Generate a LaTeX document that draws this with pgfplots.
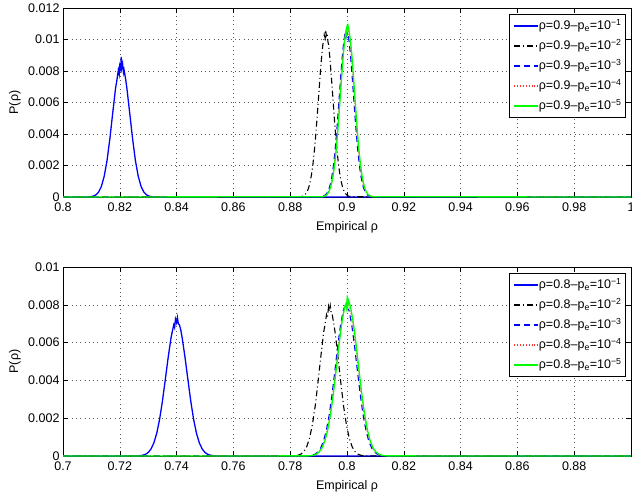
\documentclass[border=0pt]{standalone}
\usepackage{fontspec}
\setmainfont{Liberation Sans}
\usepackage{pgfplots}
\pgfplotsset{compat=1.18}
\newcommand{\fs}{\fontsize{12.5}{15}\selectfont}
\pgfplotsset{
  matax/.style={
    scale only axis, width=568pt, height=189pt,
    axis line style={black, line width=0.8pt},
    tick align=inside, xtick pos=both, ytick pos=both,
    major tick length=5pt,
    tick style={black, line width=0.6pt},
    grid=major,
    major grid style={black!65, line width=0.5pt, dash pattern=on 0.8pt off 3.5pt},
    scaled y ticks=false,
    yticklabel style={/pgf/number format/fixed, /pgf/number format/precision=3},
    xticklabel style={yshift=-2pt},
    /pgf/number format/assume math mode=true,
    tick label style={font=\fs},
    label style={font=\fs},
    xlabel={Empirical ρ}, ylabel={P(ρ)},
    xlabel style={at={(axis description cs:0.5,-0.159)}, anchor=center},
    ylabel style={at={(axis description cs:-0.0845,0.5)}, anchor=center},
    legend style={at={(1,1)}, anchor=north east, xshift=-5pt, yshift=-6pt,
      draw=black, line width=0.8pt, fill=white, font=\fs,
      inner xsep=4pt, inner ysep=4pt, row sep=5pt,
      nodes={inner sep=0pt, text height=11pt, text depth=4pt},
      /tikz/every even column/.append style={column sep=6pt}},
    legend cell align=left,
    legend image code/.code={\draw[#1, line width=1.5pt] (0pt,0pt) -- (24pt,0pt);},
  },
  c1/.style={blue, line width=1.3pt},
  c2/.style={black, line width=1.1pt, dash pattern=on 6pt off 3pt on 1pt off 3pt},
  c3/.style={blue, line width=1.1pt, dash pattern=on 6pt off 4pt},
  c4/.style={red!80, line width=0.9pt, dotted},
  c5/.style={green, line width=1.3pt},
}

\begin{document}
\begin{tikzpicture}
\useasboundingbox (0,0) rectangle (632pt,-493pt);

% rho = 0.9
\begin{axis}[matax, at={(63pt,-197pt)}, anchor=south west,
  xmin=0.8, xmax=1, ymin=0, ymax=0.012,
  xtick={0.8,0.82,0.84,0.86,0.88,0.9,0.92,0.94,0.96,0.98,1},
  ytick={0,0.002,0.004,0.006,0.008,0.01,0.012}]
\addplot[c1] coordinates {
(0.8,0)(0.8085,0.000005)(0.8095,0.000016)(0.8105,0.000047)(0.8115,0.000126)
(0.8125,0.000304)(0.8135,0.000665)(0.8145,0.00131)(0.8155,0.00231)(0.8165,0.00370)
(0.8175,0.00532)(0.8185,0.00690)(0.8190,0.00745)(0.8195,0.00807)(0.8198,0.00780)
(0.8200,0.00835)(0.8203,0.00815)(0.8205,0.00890)(0.8207,0.00820)(0.8210,0.00845)
(0.8213,0.00790)(0.8215,0.00807)(0.8220,0.00755)(0.8225,0.00690)(0.8235,0.00532)
(0.8245,0.00370)(0.8255,0.00231)(0.8265,0.00131)(0.8275,0.000665)(0.8285,0.000304)
(0.8295,0.000126)(0.8305,0.000047)(0.8315,0.000016)(0.8325,0.000005)(1,0)
};
\addlegendentry{ρ=0.9–p\textsubscript{e}=10\textsuperscript{−1}}
\addplot[c2] coordinates {
(0.8,0)(0.8835,0.000016)(0.8840,0.000033)(0.8845,0.000063)(0.8850,0.000117)
(0.8855,0.000208)(0.8860,0.000357)(0.8865,0.000589)(0.8870,0.000933)(0.8875,0.00142)
(0.8880,0.00208)(0.8885,0.00292)(0.8890,0.00394)(0.8895,0.00511)(0.8900,0.00637)
(0.8905,0.00762)(0.8910,0.00877)(0.8915,0.00969)(0.8918,0.00990)(0.8920,0.01029)
(0.8923,0.01010)(0.8925,0.01060)(0.8927,0.01025)(0.8930,0.01040)(0.8933,0.00985)
(0.8935,0.00969)(0.8940,0.00877)(0.8945,0.00762)(0.8950,0.00637)(0.8955,0.00511)
(0.8960,0.00394)(0.8965,0.00292)(0.8970,0.00208)(0.8975,0.00142)(0.8980,0.000933)
(0.8985,0.000589)(0.8990,0.000357)(0.8995,0.000208)(0.9000,0.000117)(0.9005,0.000063)
(0.9010,0.000033)(0.9015,0.000016)(1,0)
};
\addlegendentry{ρ=0.9–p\textsubscript{e}=10\textsuperscript{−2}}
\addplot[c3] coordinates {
(0.8,0)(0.8908,0.000016)(0.8913,0.000033)(0.8918,0.000064)(0.8923,0.000118)
(0.8928,0.000210)(0.8933,0.000360)(0.8938,0.000595)(0.8943,0.000942)(0.8948,0.00143)
(0.8953,0.00210)(0.8958,0.00295)(0.8963,0.00398)(0.8968,0.00516)(0.8973,0.00643)
(0.8978,0.00770)(0.8983,0.00885)(0.8988,0.00978)(0.8993,0.01039)(0.8996,0.01015)
(0.8998,0.01065)(0.9000,0.01030)(0.9003,0.01045)(0.9008,0.00978)(0.9013,0.00885)
(0.9018,0.00770)(0.9023,0.00643)(0.9028,0.00516)(0.9033,0.00398)(0.9038,0.00295)
(0.9043,0.00210)(0.9048,0.00143)(0.9053,0.000942)(0.9058,0.000595)(0.9063,0.000360)
(0.9068,0.000210)(0.9073,0.000118)(0.9078,0.000064)(0.9083,0.000033)(0.9088,0.000016)(1,0)
};
\addlegendentry{ρ=0.9–p\textsubscript{e}=10\textsuperscript{−3}}
\addplot[c4] coordinates {
(0.8,0)(0.8910,0.000016)(0.8915,0.000033)(0.8920,0.000064)(0.8925,0.000119)
(0.8930,0.000212)(0.8935,0.000364)(0.8940,0.000600)(0.8945,0.000951)(0.8950,0.00144)
(0.8955,0.00212)(0.8960,0.00297)(0.8965,0.00401)(0.8970,0.00521)(0.8975,0.00649)
(0.8980,0.00777)(0.8985,0.00893)(0.8990,0.00988)(0.8995,0.01049)(0.9000,0.01070)
(0.9005,0.01049)(0.9010,0.00988)(0.9015,0.00893)(0.9020,0.00777)(0.9025,0.00649)
(0.9030,0.00521)(0.9035,0.00401)(0.9040,0.00297)(0.9045,0.00212)(0.9050,0.00144)
(0.9055,0.000951)(0.9060,0.000600)(0.9065,0.000364)(0.9070,0.000212)(0.9075,0.000119)
(0.9080,0.000064)(0.9085,0.000033)(0.9090,0.000016)(1,0)
};
\addlegendentry{ρ=0.9–p\textsubscript{e}=10\textsuperscript{−4}}
\addplot[c5] coordinates {
(0.8,0)(0.8912,0.0000165)(0.8917,0.0000335)(0.8922,0.000065)(0.8927,0.00012)
(0.8932,0.000214)(0.8937,0.000367)(0.8942,0.000606)(0.8947,0.00096)(0.8952,0.00146)
(0.8957,0.00214)(0.8962,0.00300)(0.8967,0.00405)(0.8972,0.00526)(0.8977,0.00656)
(0.8982,0.00784)(0.8987,0.00902)(0.8992,0.00997)(0.8997,0.01058)(0.8999,0.01035)
(0.9001,0.01095)(0.9002,0.01060)(0.9004,0.01085)(0.9007,0.01058)(0.9012,0.00997)
(0.9017,0.00902)(0.9022,0.00784)(0.9027,0.00656)(0.9032,0.00526)(0.9037,0.00405)
(0.9042,0.00300)(0.9047,0.00214)(0.9052,0.00146)(0.9057,0.00096)(0.9062,0.000606)
(0.9067,0.000367)(0.9072,0.000214)(0.9077,0.00012)(0.9082,0.000065)(0.9087,0.0000335)
(0.9092,0.0000165)(1,0)
};
\addlegendentry{ρ=0.9–p\textsubscript{e}=10\textsuperscript{−5}}
\end{axis}

% rho = 0.8
\begin{axis}[matax, at={(63pt,-456pt)}, anchor=south west,
  xmin=0.7, xmax=0.9, ymin=0, ymax=0.01,
  xtick={0.7,0.72,0.74,0.76,0.78,0.8,0.82,0.84,0.86,0.88},
  ytick={0,0.002,0.004,0.006,0.008,0.01}]
\addplot[c1] coordinates {
(0.7,0)(0.726,0.0000056)(0.727,0.000015)(0.728,0.0000374)(0.729,0.0000864)
(0.730,0.000186)(0.731,0.000374)(0.732,0.000696)(0.733,0.00120)(0.734,0.00193)
(0.735,0.00289)(0.736,0.00402)(0.737,0.00518)(0.738,0.00622)(0.7385,0.00660)
(0.739,0.00694)(0.7393,0.00680)(0.7396,0.00725)(0.740,0.00705)(0.7403,0.00732)
(0.7406,0.00700)(0.741,0.00694)(0.7415,0.00665)(0.742,0.00622)(0.743,0.00518)
(0.744,0.00402)(0.745,0.00289)(0.746,0.00193)(0.747,0.00120)(0.748,0.000696)
(0.749,0.000374)(0.750,0.000186)(0.751,0.0000864)(0.752,0.0000374)(0.753,0.000015)
(0.754,0.0000056)(0.9,0)
};
\addlegendentry{ρ=0.8–p\textsubscript{e}=10\textsuperscript{−1}}
\addplot[c2] coordinates {
(0.7,0)(0.7808,0.0000052)(0.7818,0.0000154)(0.7828,0.0000417)(0.7838,0.000103)
(0.7848,0.000235)(0.7858,0.000490)(0.7868,0.000936)(0.7878,0.00165)(0.7888,0.00264)
(0.7898,0.00391)(0.7908,0.00529)(0.7918,0.00656)(0.7923,0.00700)(0.7928,0.00747)
(0.7931,0.00730)(0.7935,0.00790)(0.7938,0.00765)(0.7941,0.00795)(0.7945,0.00750)
(0.7948,0.00747)(0.7953,0.00705)(0.7958,0.00656)(0.7968,0.00529)(0.7978,0.00391)
(0.7988,0.00264)(0.7998,0.00165)(0.8008,0.000936)(0.8018,0.000490)(0.8028,0.000235)
(0.8038,0.000103)(0.8048,0.0000417)(0.8058,0.0000154)(0.8068,0.0000052)(0.9,0)
};
\addlegendentry{ρ=0.8–p\textsubscript{e}=10\textsuperscript{−2}}
\addplot[c3] coordinates {
(0.7,0)(0.7857,0.0000062)(0.7867,0.0000167)(0.7877,0.0000416)(0.7887,0.000096)
(0.7897,0.000207)(0.7907,0.000415)(0.7917,0.000773)(0.7927,0.00134)(0.7937,0.00214)
(0.7947,0.00321)(0.7957,0.00446)(0.7967,0.00576)(0.7977,0.00691)(0.7987,0.00771)
(0.7992,0.00790)(0.7997,0.00805)(0.8002,0.00780)(0.8007,0.00771)(0.8017,0.00691)
(0.8027,0.00576)(0.8037,0.00446)(0.8047,0.00321)(0.8057,0.00214)(0.8067,0.00134)
(0.8077,0.000773)(0.8087,0.000415)(0.8097,0.000207)(0.8107,0.000096)(0.8117,0.0000416)
(0.8127,0.0000167)(0.8137,0.0000062)(0.9,0)
};
\addlegendentry{ρ=0.8–p\textsubscript{e}=10\textsuperscript{−3}}
\addplot[c4] coordinates {
(0.7,0)(0.786,0.0000063)(0.787,0.0000169)(0.788,0.0000421)(0.789,0.0000972)
(0.790,0.000210)(0.791,0.000420)(0.792,0.000782)(0.793,0.00135)(0.794,0.00217)
(0.795,0.00325)(0.796,0.00452)(0.797,0.00583)(0.798,0.00700)(0.799,0.00781)
(0.800,0.00810)(0.801,0.00781)(0.802,0.00700)(0.803,0.00583)(0.804,0.00452)
(0.805,0.00325)(0.806,0.00217)(0.807,0.00135)(0.808,0.000782)(0.809,0.000420)
(0.810,0.000210)(0.811,0.0000972)(0.812,0.0000421)(0.813,0.0000169)(0.814,0.0000063)(0.9,0)
};
\addlegendentry{ρ=0.8–p\textsubscript{e}=10\textsuperscript{−4}}
\addplot[c5] coordinates {
(0.7,0)(0.7862,0.0000064)(0.7872,0.0000171)(0.7882,0.0000426)(0.7892,0.0000984)
(0.7902,0.000212)(0.7912,0.000426)(0.7922,0.000792)(0.7932,0.00137)(0.7942,0.00220)
(0.7952,0.00329)(0.7962,0.00458)(0.7972,0.00590)(0.7982,0.00708)(0.7992,0.00790)
(0.7996,0.00805)(0.7999,0.00780)(0.8001,0.00850)(0.8003,0.00795)(0.8006,0.00820)
(0.8012,0.00790)(0.8022,0.00708)(0.8032,0.00590)(0.8042,0.00458)(0.8052,0.00329)
(0.8062,0.00220)(0.8072,0.00137)(0.8082,0.000792)(0.8092,0.000426)(0.8102,0.000212)
(0.8112,0.0000984)(0.8122,0.0000426)(0.8132,0.0000171)(0.8142,0.0000064)(0.9,0)
};
\addlegendentry{ρ=0.8–p\textsubscript{e}=10\textsuperscript{−5}}
\end{axis}
\end{tikzpicture}
\end{document}
